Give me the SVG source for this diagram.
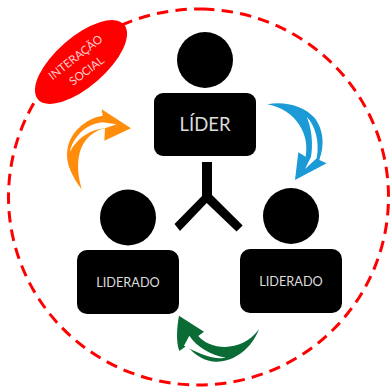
<svg xmlns="http://www.w3.org/2000/svg" width="391" height="387" viewBox="0 0 391 387">
<style>
.body{fill:#000}
.lbl{font-family:Lato,"Liberation Sans",sans-serif;fill:#dcdcdc;text-anchor:middle}
.soc{font-family:Lato,"Liberation Sans",sans-serif;fill:#ffd0d0;text-anchor:middle;font-size:11.5px}
.gap{fill:#fff}
</style>
<rect width="391" height="387" fill="#fff"/>
<path id="boundary" d="M203 9.05A190 188 0 0 1 194 384.95A190 188 0 0 1 203 9.05Z" fill="none" stroke="#f00" stroke-width="3" stroke-dasharray="11.5 7.2"/>
<g id="interacao-social">
<ellipse cx="81" cy="62" rx="57" ry="25" transform="rotate(-41 81 62)" fill="#f00"/>
<text class="soc" transform="translate(78 60.500) rotate(-38)">INTERAÇÃO</text>
<text class="soc" transform="translate(89 74) rotate(-37)">SOCIAL</text>
</g>
<g id="lider">
<circle class="body" cx="205" cy="60" r="28"/>
<rect class="body" x="154" y="93" width="102" height="63" rx="9"/>
<text class="lbl" x="205" y="131" font-size="18.500">LÍDER</text>
</g>
<g id="liderado-esq">
<circle class="body" cx="128" cy="217.500" r="28"/>
<rect class="body" x="77" y="250" width="102" height="64" rx="10"/>
<text class="lbl" x="128" y="287" font-size="12.700">LIDERADO</text>
</g>
<g id="liderado-dir">
<circle class="body" cx="291" cy="216" r="28"/>
<rect class="body" x="240" y="249" width="102" height="64" rx="10"/>
<text class="lbl" x="291" y="286" font-size="12.700">LIDERADO</text>
</g>
<g id="connectors">
<path id="hierarquia" d="M202 162H212V195L242.700 225.500L236.500 231.500L206.700 203L180 231L174.500 224L202 196Z" fill="#000"/>
<g transform="translate(60 100) scale(.3333)">
<path d="M65 268C40 235 15 190 22 150C28 100 75 55 128 47L125 28L213 85L133 122L135 85C90 95 30 140 65 268Z" fill="#ff8c0a"/>
<path class="gap" d="M30 155C38 115 75 72 127 67L170 73L135 85C95 88 55 110 30 155Z"/>
</g>
<g transform="translate(260 95) scale(.3333)">
<path d="M22 28C70 18 130 30 165 70C190 105 195 150 178 195L200 205L105 255L115 172L137 185C150 120 110 45 22 28Z" fill="#1b9ad6"/>
<path class="gap" d="M140 65C165 90 180 140 170 190L135 222L153 186C160 145 155 100 140 65Z"/>
</g>
<g transform="translate(170 305) scale(.3333)">
<path d="M27 32L102 80L85 93C120 135 215 145 267 73C245 130 195 170 140 170C105 170 75 150 50 122L28 138C18 110 20 70 27 32Z" fill="#0b6b35"/>
<path class="gap" d="M58 92C80 125 120 150 168 158C130 165 85 145 42 122Z"/>
</g>
</g>
</svg>
